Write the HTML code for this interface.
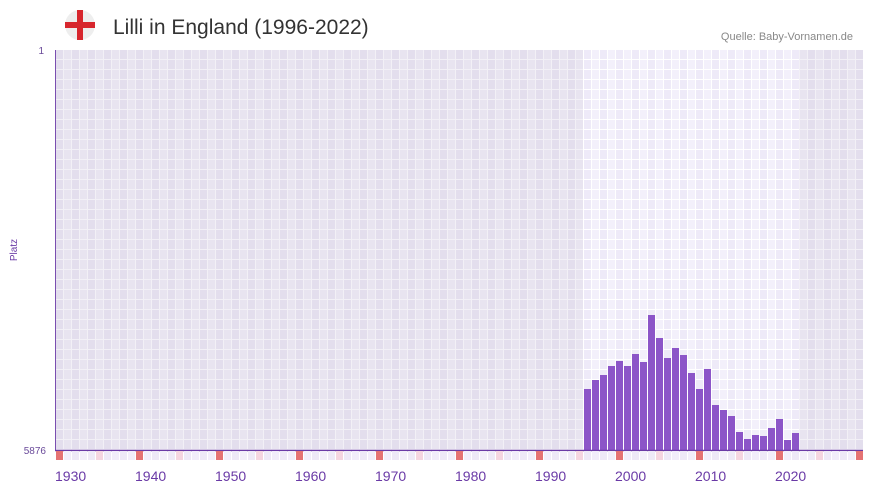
<!DOCTYPE html>
<html><head><meta charset="utf-8"><style>
body{margin:0;background:#fff;width:873px;height:492px;overflow:hidden;font-family:"Liberation Sans",sans-serif}
</style></head><body>
<svg width="873" height="492" xmlns="http://www.w3.org/2000/svg">
<defs>
<pattern id="g" x="56" y="50" width="16" height="10" patternUnits="userSpaceOnUse">
<rect width="8" height="10" fill="#e3deed"/><rect x="8" width="8" height="10" fill="#e8e4f0"/>
<rect x="7" width="1" height="10" fill="#f2f0f6"/><rect x="15" width="1" height="10" fill="#f2f0f6"/>
<rect y="9" width="16" height="1" fill="#f2f0f6"/>
</pattern>
<pattern id="h" x="56" y="50" width="16" height="10" patternUnits="userSpaceOnUse">
<rect width="8" height="10" fill="#eeeaf8"/><rect x="8" width="8" height="10" fill="#f3f0fb"/>
<rect x="7" width="1" height="10" fill="#fff"/><rect x="15" width="1" height="10" fill="#fff"/>
<rect y="9" width="16" height="1" fill="#fff"/>
</pattern>
</defs>
<circle cx="80" cy="25" r="15" fill="#eee"/>
<rect x="65" y="22" width="30" height="6" fill="#d7262d"/>
<rect x="77" y="10" width="6" height="30" fill="#d7262d"/>
<text x="113" y="34" font-size="21" fill="#333">Lilli in England (1996-2022)</text>
<text x="853" y="40" font-size="11" fill="#888" text-anchor="end">Quelle: Baby-Vornamen.de</text>
<rect x="56" y="50" width="807" height="400" fill="url(#g)"/>
<rect x="583" y="50" width="216" height="400" fill="url(#h)"/>
<g fill="#8c55c8" id="bars"></g>
<line x1="55.5" y1="50" x2="55.5" y2="450" stroke="#7a4fb0"/>
<line x1="55" y1="450.5" x2="863" y2="450.5" stroke="#6a3aa6" stroke-width="1.5"/>
<g id="mk"></g>
<text x="44" y="54" font-size="10" fill="#6a4a9a" text-anchor="end">1</text>
<text x="46" y="454" font-size="10" fill="#6a4a9a" text-anchor="end">5876</text>
<text x="17" y="250" font-size="10" fill="#6a3aa6" text-anchor="middle" transform="rotate(-90 17 250)">Platz</text>
<g font-size="14" fill="#6a3aa6" id="lab"></g>
</svg>
<script>
var tops=[389,380,375,366,361,366,354,362,315,338,358,348,355,373,389,369,405,410,416,432,439,435,436,428,419,440,433];
var ns="http://www.w3.org/2000/svg",b=document.getElementById("bars");
tops.forEach(function(t,i){var r=document.createElementNS(ns,"rect");r.setAttribute("x",56+(66+i)*8);r.setAttribute("y",t);r.setAttribute("width",7);r.setAttribute("height",450-t);b.appendChild(r);});
var m=document.getElementById("mk");
for(var c=0;c<101;c++){var y=1930+c;var r=document.createElementNS(ns,"rect");r.setAttribute("x",56+c*8);r.setAttribute("y",451);r.setAttribute("width",7);r.setAttribute("height",9);
r.setAttribute("fill",y%10==0?"#e57373":(y%5==0?"#f5d5e0":(c%2?"#f2eefa":"#eee9f7")));m.appendChild(r);}
var l=document.getElementById("lab");
for(var y=1930;y<=2020;y+=10){var t=document.createElementNS(ns,"text");t.setAttribute("x",56+(y-1930)*8-1);t.setAttribute("y",481);t.textContent=y;l.appendChild(t);}
</script>
</body></html>
